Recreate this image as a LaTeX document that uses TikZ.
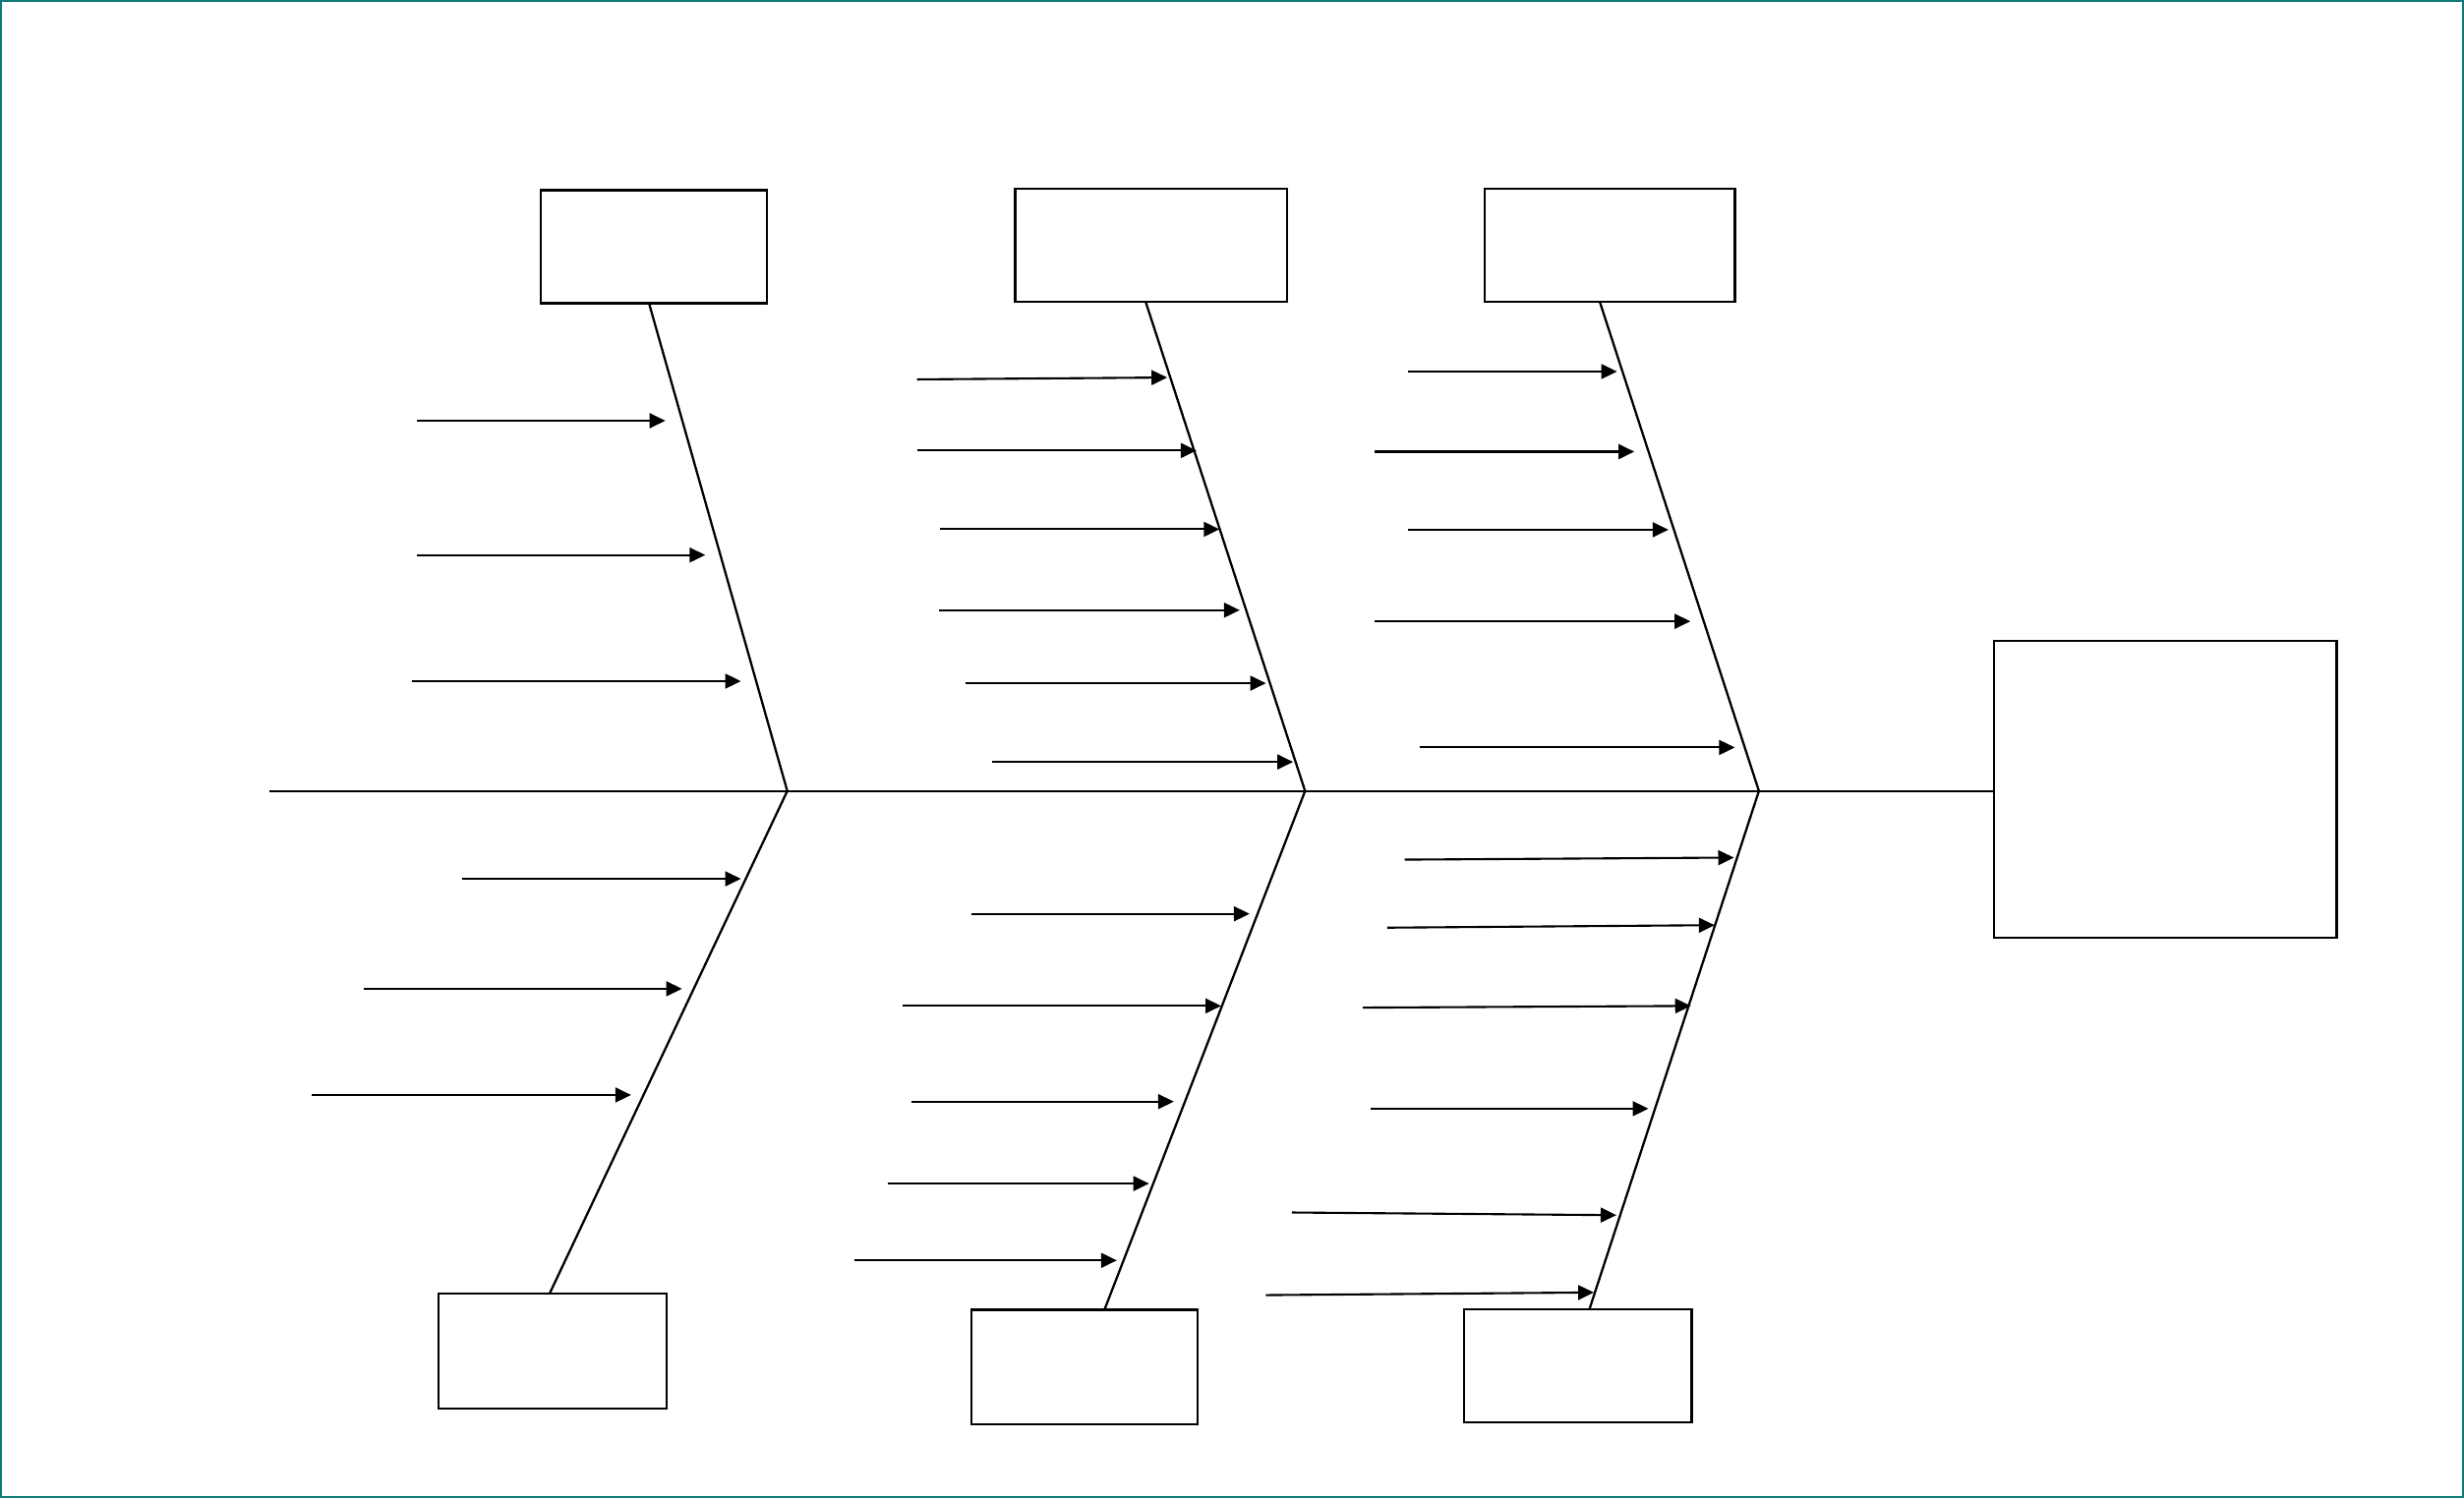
\documentclass[tikz,border=0pt]{standalone}
\usetikzlibrary{arrows.meta,calc}
\definecolor{frameteal}{RGB}{16,122,120}
\begin{document}
\begin{tikzpicture}[x=0.016cm,y=-0.016cm,
  catbox/.style 2 args={draw=black,line width=0.65pt,inner sep=0pt,outer sep=0pt,minimum width=#1*0.016cm,minimum height=#2*0.016cm},
  bone/.style={draw=black,line width=0.65pt},
  causearrow/.style={draw=black,line width=0.6pt,-{Triangle[length=0.16cm,width=0.15cm]}}]
\useasboundingbox (0,0) rectangle (1568,953.6);
\draw[frameteal,line width=0.7pt] (0.7,0.7) rectangle (1567.3,952.9);
% category boxes
\node[catbox={144}{72}] (c1) at (416,157) {};
\node[catbox={173}{72}] (c2) at (732.5,156) {};
\node[catbox={159}{72}] (c3) at (1024.5,156) {};
\node[catbox={145}{73}] (c4) at (351.5,860) {};
\node[catbox={144}{73}] (c5) at (690,870.3) {};
\node[catbox={145}{72}] (c6) at (1004,869.5) {};
% effect box
\node[catbox={218}{189}] (eff) at (1378,502.5) {};
% spine
\coordinate (tail) at (171.5,503.5);
\coordinate (j1) at (501,503.5);
\coordinate (j2) at (830.5,503.5);
\coordinate (j3) at (1119.3,503.5);
\draw[bone] (tail) -- (tail -| eff.west);
% bones
\draw[bone] ($(c1.south)+(-3,0)$) -- (j1);
\draw[bone] ($(c2.south)+(-3.5,0)$) -- (j2);
\draw[bone] ($(c3.south)+(-6.5,0)$) -- (j3);
\draw[bone] (j1) -- ($(c4.north)+(-1.8,0)$);
\draw[bone] (j2) -- ($(c5.north)+(12.8,0)$);
\draw[bone] (j3) -- ($(c6.north)+(7.4,0)$);
% cause arrows
\foreach \xa/\ya/\xb/\yb in {
  265.6/267.8/423.4/267.8, 265.6/353.3/448.8/353.3, 262.3/433.6/471.5/433.6,
  583.6/241.5/742.8/240.3, 583.6/286.8/761.4/286.8, 598.2/336.9/776/336.9,
  597.6/388.4/788.9/388.4, 614.3/434.9/805.6/434.9, 631.4/485/822.9/485,
  896/236.5/1029/236.5, 875/287.5/1040/287.5, 895.9/337.2/1061.7/337.2,
  875/395.5/1075.7/395.5, 903.2/475.8/1104/475.8,
  293.9/559.4/471.5/559.4, 231.4/629.4/434/629.4, 198.6/697/401.6/697,
  618.1/581.7/795.2/581.7, 574.2/640.3/777.1/640.3, 580.3/701.2/747/701.2,
  564.9/753.4/731.2/753.4, 543.7/802.3/710.7/802.3,
  893.9/547.2/1103.4/545.9, 882.8/590.5/1091.1/588.9, 867.3/641.4/1076/640.3,
  872.4/705.7/1049/705.7, 822.1/771.8/1028.6/773.5, 805.5/824.4/1014.3/822.7}
  \draw[causearrow] (\xa,\ya) -- (\xb,\yb);
\end{tikzpicture}
\end{document}
